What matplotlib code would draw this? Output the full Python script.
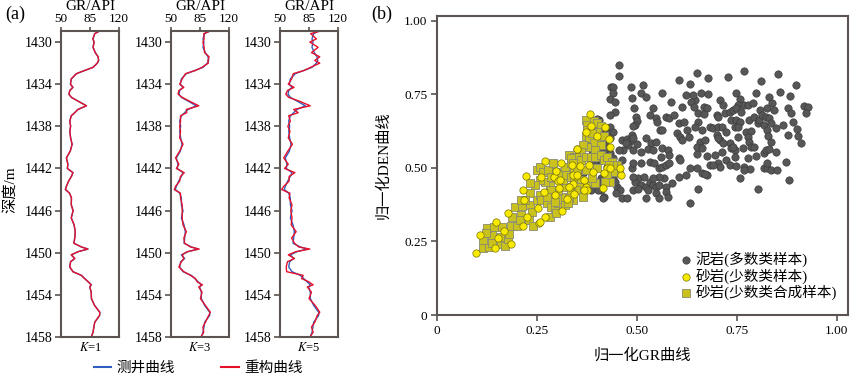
import numpy as np
import matplotlib
matplotlib.use("Agg")
import matplotlib.pyplot as plt
from matplotlib.lines import Line2D

plt.rcParams['font.family'] = ['Liberation Serif', 'Noto Sans CJK SC']
plt.rcParams['axes.unicode_minus'] = False

# ---- data: GR logs (depth in m, GR in API) ----
depth = [1428.9, 1429.2, 1429.7, 1430.0, 1430.5, 1431.0, 1431.4, 1431.75, 1432.0, 1432.4,
         1432.7, 1433.0, 1433.5, 1434.0, 1434.3, 1434.6, 1434.95, 1435.25, 1435.6, 1436.05,
         1436.4, 1436.7, 1437.0, 1437.5, 1438.0, 1438.45, 1439.1, 1439.7, 1440.35, 1441.0,
         1441.6, 1442.0, 1442.4, 1442.75, 1443.2, 1443.7, 1444.0, 1444.35, 1444.8, 1445.45,
         1446.0, 1446.7, 1447.35, 1448.0, 1448.6, 1449.1, 1449.45, 1449.65, 1449.9, 1450.2,
         1450.55, 1450.85, 1451.35, 1451.8, 1452.15, 1452.45, 1452.75, 1453.05, 1453.25, 1453.75,
         1454.35, 1455.0, 1455.65, 1455.95, 1456.6, 1457.05, 1457.55, 1458.0]

gr_log = [97.9, 90.6, 88.6, 89.8, 88.6, 91.4, 94.7, 95.5, 93.9, 88.6,
          78.6, 68.5, 62.5, 61.3, 64.5, 60.5, 59.7, 62.5, 70.5, 80.6,
          70.5, 66.5, 62.5, 60.5, 61.7, 60.5, 61.7, 63.3, 61.3, 56.4,
          58.4, 57.6, 64.5, 62.5, 59.3, 56.4, 55.2, 60.5, 62.5, 62.5,
          64.5, 62.5, 65.7, 67.3, 66.5, 65.7, 74.5, 82.6, 70.5, 62.5,
          66.5, 61.7, 60.5, 64.5, 74.5, 78.6, 82.6, 86.6, 84.6, 86.6,
          86.6, 90.6, 96.7, 96.7, 90.6, 89.8, 88.6, 86.6]

gr_k1 = [97.6, 90.8, 88.4, 90.0, 88.8, 91.2, 94.9, 95.3, 93.7, 88.8,
         78.4, 68.7, 62.3, 61.5, 64.3, 60.7, 59.5, 62.7, 70.3, 80.8,
         70.3, 66.7, 62.3, 60.7, 61.5, 60.7, 61.5, 63.5, 61.1, 56.6,
         58.2, 57.8, 64.3, 62.7, 59.1, 56.6, 55.4, 60.3, 62.7, 62.3,
         64.7, 62.3, 65.9, 67.1, 66.7, 65.5, 74.7, 82.4, 70.7, 62.3,
         66.7, 61.5, 60.7, 64.3, 74.7, 78.4, 82.8, 86.4, 84.8, 86.4,
         86.8, 90.4, 96.9, 96.5, 90.8, 89.6, 88.8, 86.4]

gr_k3 = [99.0, 89.5, 90.0, 88.5, 90.0, 90.5, 96.0, 94.5, 95.0, 87.5,
         79.5, 67.5, 63.5, 60.5, 65.5, 59.5, 58.5, 63.5, 72.0, 83.5,
         68.5, 69.0, 61.5, 61.5, 60.5, 61.5, 60.5, 64.5, 60.5, 55.5,
         59.5, 56.5, 66.0, 61.5, 60.5, 55.5, 54.0, 61.5, 61.5, 63.5,
         63.5, 63.5, 64.5, 68.5, 65.5, 66.5, 73.5, 84.0, 69.5, 63.5,
         65.5, 62.5, 59.5, 65.5, 73.5, 79.5, 81.5, 88.0, 83.5, 87.5,
         85.5, 91.5, 97.5, 95.5, 91.5, 88.5, 89.5, 86.0]

gr_k5 = [101.5, 87.0, 94.0, 86.0, 96.0, 88.0, 98.0, 92.0, 98.0, 87.0,
         79.0, 66.0, 64.0, 60.0, 67.0, 59.0, 57.0, 60.5, 73.0, 86.5,
         66.5, 72.0, 60.5, 62.5, 59.5, 62.0, 60.0, 65.0, 59.5, 54.5,
         60.0, 55.5, 68.0, 61.0, 61.0, 54.5, 52.0, 62.0, 61.0, 64.5,
         63.0, 64.5, 63.5, 69.5, 64.0, 67.5, 72.5, 86.0, 69.0, 60.0,
         67.5, 59.0, 57.5, 58.0, 78.0, 76.0, 84.5, 90.0, 83.0, 88.0,
         85.0, 92.5, 98.0, 95.0, 92.0, 88.0, 90.0, 86.0]

tracks = [("K=1", gr_k1), ("K=3", gr_k3), ("K=5", gr_k5)]

# ---- data: normalized GR vs DEN samples ----
mud_x = [0.650, 0.677, 0.728, 0.769, 0.853, 0.810, 0.898, 0.661, 0.677, 0.646, 0.708, 0.716,
         0.749, 0.757, 0.753, 0.769, 0.777, 0.790, 0.798, 0.857, 0.882, 0.831, 0.839, 0.826,
         0.808, 0.843, 0.878, 0.886, 0.918, 0.929, 0.923, 0.667, 0.675, 0.654, 0.667, 0.654,
         0.663, 0.683, 0.691, 0.704, 0.712, 0.724, 0.700, 0.704, 0.720, 0.732, 0.740, 0.749,
         0.761, 0.736, 0.749, 0.757, 0.745, 0.753, 0.781, 0.794, 0.802, 0.806, 0.814, 0.822,
         0.831, 0.818, 0.835, 0.847, 0.866, 0.890, 0.900, 0.877, 0.904, 0.910, 0.773, 0.786,
         0.777, 0.781, 0.786, 0.792, 0.826, 0.828, 0.835, 0.754, 0.765, 0.732, 0.736, 0.745,
         0.740, 0.708, 0.700, 0.704, 0.716, 0.712, 0.695, 0.675, 0.650, 0.659, 0.650, 0.663,
         0.671, 0.724, 0.746, 0.777, 0.798, 0.818, 0.822, 0.831, 0.847, 0.704, 0.708, 0.732,
         0.749, 0.769, 0.784, 0.769, 0.818, 0.826, 0.835, 0.851, 0.826, 0.874, 0.757, 0.675,
         0.663, 0.650, 0.880, 0.802, 0.654, 0.671, 0.683, 0.691,
         0.454, 0.456, 0.435, 0.440, 0.441, 0.433, 0.446, 0.484, 0.514, 0.487, 0.511, 0.522,
         0.564, 0.585, 0.605, 0.634, 0.622, 0.640, 0.636, 0.613, 0.642, 0.446, 0.432, 0.493,
         0.497, 0.500, 0.495, 0.489, 0.532, 0.541, 0.548, 0.550, 0.558, 0.563, 0.572, 0.581,
         0.593, 0.605, 0.618, 0.601, 0.609, 0.613, 0.630, 0.645, 0.626, 0.432, 0.441, 0.433,
         0.423, 0.462, 0.474, 0.482, 0.487, 0.491, 0.478, 0.466, 0.473, 0.489, 0.499, 0.511,
         0.523, 0.536, 0.548, 0.527, 0.541, 0.564, 0.577, 0.581, 0.560, 0.605, 0.609, 0.433,
         0.441, 0.446, 0.454, 0.462, 0.487, 0.491, 0.511, 0.532, 0.544, 0.556, 0.564, 0.572,
         0.581, 0.634, 0.605, 0.622, 0.503, 0.519, 0.495, 0.491, 0.511, 0.523, 0.532, 0.540,
         0.548, 0.556, 0.572, 0.589, 0.568, 0.556, 0.540, 0.450, 0.458, 0.448, 0.462, 0.474,
         0.491, 0.503, 0.527, 0.548, 0.572, 0.577, 0.556, 0.523, 0.417, 0.409, 0.634, 0.441,
         0.446, 0.409, 0.405, 0.433, 0.425, 0.405, 0.409, 0.413, 0.425, 0.396, 0.405, 0.392,
         0.384, 0.384, 0.417, 0.388, 0.364, 0.384, 0.376, 0.409, 0.421, 0.400, 0.405, 0.361,
         0.364, 0.403, 0.414, 0.410]
mud_y = [0.824, 0.807, 0.811, 0.831, 0.820, 0.796, 0.782, 0.756, 0.751, 0.731, 0.731, 0.714,
         0.756, 0.734, 0.714, 0.714, 0.714, 0.720, 0.756, 0.760, 0.745, 0.743, 0.722, 0.703,
         0.697, 0.697, 0.705, 0.686, 0.711, 0.706, 0.688, 0.709, 0.703, 0.686, 0.684, 0.658,
         0.629, 0.641, 0.637, 0.638, 0.638, 0.624, 0.680, 0.675, 0.686, 0.692, 0.697, 0.703,
         0.692, 0.663, 0.663, 0.658, 0.641, 0.638, 0.663, 0.675, 0.652, 0.663, 0.680, 0.675,
         0.669, 0.646, 0.652, 0.635, 0.646, 0.658, 0.632, 0.612, 0.609, 0.586, 0.624, 0.627,
         0.604, 0.590, 0.573, 0.573, 0.629, 0.609, 0.590, 0.604, 0.567, 0.584, 0.567, 0.561,
         0.573, 0.595, 0.612, 0.601, 0.584, 0.556, 0.544, 0.541, 0.548, 0.590, 0.573, 0.567,
         0.595, 0.527, 0.536, 0.533, 0.541, 0.550, 0.561, 0.564, 0.556, 0.516, 0.505, 0.510,
         0.507, 0.505, 0.495, 0.493, 0.499, 0.499, 0.493, 0.493, 0.516, 0.521, 0.465, 0.476,
         0.482, 0.499, 0.459, 0.427, 0.427, 0.480, 0.510, 0.510,
         0.850, 0.813, 0.774, 0.777, 0.754, 0.734, 0.726, 0.777, 0.782, 0.737, 0.754, 0.740,
         0.754, 0.726, 0.799, 0.785, 0.748, 0.748, 0.726, 0.706, 0.709, 0.692, 0.680, 0.703,
         0.675, 0.661, 0.646, 0.643, 0.680, 0.703, 0.669, 0.658, 0.629, 0.629, 0.675, 0.669,
         0.680, 0.652, 0.658, 0.618, 0.604, 0.595, 0.607, 0.641, 0.629, 0.641, 0.624, 0.601,
         0.618, 0.595, 0.598, 0.593, 0.612, 0.601, 0.578, 0.561, 0.584, 0.561, 0.582, 0.556,
         0.601, 0.584, 0.590, 0.564, 0.561, 0.567, 0.561, 0.544, 0.539, 0.533, 0.527, 0.550,
         0.533, 0.510, 0.561, 0.527, 0.499, 0.516, 0.516, 0.522, 0.516, 0.499, 0.505, 0.510,
         0.516, 0.499, 0.471, 0.476, 0.465, 0.471, 0.454, 0.471, 0.442, 0.437, 0.454, 0.442,
         0.437, 0.442, 0.437, 0.448, 0.465, 0.471, 0.465, 0.437, 0.425, 0.414, 0.397, 0.397,
         0.425, 0.427, 0.425, 0.414, 0.420, 0.402, 0.397, 0.397, 0.402, 0.425, 0.382, 0.465,
         0.454, 0.465, 0.448, 0.488, 0.505, 0.561, 0.595, 0.618, 0.573, 0.516, 0.663, 0.629,
         0.618, 0.590, 0.561, 0.561, 0.482, 0.425, 0.448, 0.527, 0.590, 0.667, 0.627, 0.546,
         0.484, 0.425, 0.399, 0.556]

sand_x = [0.097, 0.107, 0.147, 0.153, 0.144, 0.167, 0.186, 0.178, 0.218, 0.223, 0.215, 0.224,
          0.256, 0.253, 0.271, 0.261, 0.267, 0.271, 0.294, 0.292, 0.302, 0.310, 0.306, 0.312,
          0.324, 0.337, 0.347, 0.350, 0.382, 0.372, 0.386, 0.399, 0.421, 0.429, 0.433, 0.351,
          0.358, 0.380, 0.391, 0.337, 0.339, 0.351, 0.339, 0.372, 0.376, 0.343, 0.425, 0.433,
          0.417, 0.460, 0.458, 0.415, 0.368, 0.331, 0.216, 0.257, 0.308, 0.297, 0.368]
sand_y = [0.212, 0.272, 0.315, 0.261, 0.227, 0.287, 0.240, 0.346, 0.391, 0.473, 0.303, 0.334,
          0.314, 0.363, 0.524, 0.471, 0.420, 0.334, 0.408, 0.471, 0.457, 0.518, 0.431, 0.354,
          0.395, 0.442, 0.473, 0.564, 0.684, 0.624, 0.643, 0.609, 0.638, 0.598, 0.570, 0.564,
          0.507, 0.510, 0.488, 0.510, 0.476, 0.476, 0.444, 0.437, 0.425, 0.412, 0.499, 0.499,
          0.482, 0.476, 0.499, 0.431, 0.459, 0.437, 0.425, 0.317, 0.459, 0.489, 0.425]

syn_x = [0.114, 0.129, 0.138, 0.159, 0.171, 0.115, 0.138, 0.161, 0.178, 0.179, 0.126, 0.142,
         0.163, 0.122, 0.196, 0.188, 0.186, 0.200, 0.210, 0.212, 0.233, 0.237, 0.208, 0.229,
         0.241, 0.233, 0.249, 0.257, 0.261, 0.278, 0.276, 0.286, 0.294, 0.282, 0.298, 0.302,
         0.306, 0.294, 0.319, 0.319, 0.331, 0.335, 0.343, 0.341, 0.323, 0.315, 0.282, 0.270,
         0.257, 0.245, 0.233, 0.249, 0.257, 0.265, 0.278, 0.290, 0.298, 0.286, 0.310, 0.319,
         0.331, 0.335, 0.343, 0.323, 0.335, 0.343, 0.302, 0.286, 0.274, 0.220, 0.210,
         0.372, 0.376, 0.374, 0.372, 0.392, 0.399, 0.409, 0.400, 0.409, 0.380, 0.392, 0.409,
         0.396, 0.376, 0.364, 0.361, 0.347, 0.335, 0.339, 0.360, 0.372, 0.384, 0.396, 0.409,
         0.417, 0.425, 0.437, 0.450, 0.454, 0.441, 0.425, 0.400, 0.372, 0.351, 0.343, 0.360,
         0.380, 0.396, 0.356, 0.347, 0.335, 0.331, 0.327, 0.364, 0.388, 0.433, 0.421, 0.441,
         0.429, 0.388, 0.418]
syn_y = [0.227, 0.230, 0.246, 0.242, 0.233, 0.255, 0.272, 0.266, 0.257, 0.274, 0.295, 0.300,
         0.300, 0.278, 0.368, 0.334, 0.303, 0.303, 0.340, 0.371, 0.374, 0.351, 0.323, 0.323,
         0.303, 0.416, 0.391, 0.408, 0.391, 0.403, 0.380, 0.366, 0.363, 0.334, 0.346, 0.380,
         0.393, 0.386, 0.374, 0.403, 0.393, 0.414, 0.431, 0.391, 0.437, 0.459, 0.439, 0.454,
         0.459, 0.442, 0.448, 0.493, 0.505, 0.488, 0.493, 0.516, 0.488, 0.471, 0.480, 0.505,
         0.544, 0.516, 0.539, 0.476, 0.471, 0.499, 0.425, 0.425, 0.403, 0.391, 0.391,
         0.663, 0.646, 0.629, 0.609, 0.661, 0.652, 0.643, 0.624, 0.607, 0.601, 0.584, 0.578,
         0.561, 0.570, 0.578, 0.556, 0.539, 0.533, 0.516, 0.527, 0.539, 0.539, 0.539, 0.544,
         0.527, 0.539, 0.522, 0.510, 0.488, 0.488, 0.476, 0.499, 0.493, 0.493, 0.465, 0.459,
         0.454, 0.448, 0.437, 0.425, 0.414, 0.397, 0.380, 0.403, 0.465, 0.454, 0.454, 0.510,
         0.510, 0.618, 0.609]

depth_ticks = [1430, 1434, 1438, 1442, 1446, 1450, 1454, 1458]
gr_ticks = [50, 85, 120]
norm_ticks = [0, 0.25, 0.5, 0.75, 1.0]
norm_labels = ["0", "0.25", "0.50", "0.75", "1.00"]

spine_c = "#5b5450"
blue = "#2f5fbf"
red = "#e5102a"

fig = plt.figure(figsize=(8.5, 3.76), dpi=100)

lefts = [61, 171, 280]
for (klabel, gr_rec), lx in zip(tracks, lefts):
    ax = fig.add_axes([lx / 850, 1 - 337 / 376, 58 / 850, 306 / 376])
    ax.plot(gr_log, depth, color=blue, lw=1.0)
    ax.plot(gr_rec, depth, color=red, lw=1.0)
    ax.set_xlim(50, 120)
    ax.set_ylim(1458, 1428.95)
    ax.set_yticks(depth_ticks)
    ax.set_xticks(gr_ticks)
    ax.xaxis.tick_top()
    ax.tick_params(axis='y', direction='out', length=4, width=1.2, color=spine_c,
                   labelsize=10, pad=2)
    ax.tick_params(axis='x', direction='out', length=3, width=1.2, color=spine_c,
                   labelsize=9.5, pad=1)
    for s in ax.spines.values():
        s.set_color(spine_c)
        s.set_linewidth(1.5)
    fig.text((lx + 29) / 850, 1 - 0.5 / 376, "GR/API", ha='center', va='top', fontsize=11)
    k, v = klabel.split("=")
    ax.text(0.5, -0.012, "$\\it{K}$=" + v, transform=ax.transAxes, ha='center', va='top',
            fontsize=9, math_fontfamily='stix')

fig.text(10 / 850, 1 - 190 / 376, "深度/m", rotation=90, ha='center', va='center', fontsize=11)
fig.text(5 / 850, 1 - 14 / 376, "(a)", ha='left', va='center', fontsize=13)
fig.text(371 / 850, 1 - 14 / 376, "(b)", ha='left', va='center', fontsize=13)

handles = [Line2D([], [], color=blue, lw=1.5), Line2D([], [], color=red, lw=1.5)]
fig.legend(handles, ["测井曲线", "重构曲线"], loc='center', bbox_to_anchor=(198 / 850, 8 / 376),
           ncol=2, frameon=False, fontsize=10.5, handlelength=1.2, handletextpad=0.35,
           columnspacing=3.2)

# scatter panel
ax2 = fig.add_axes([437 / 850, 1 - 315 / 376, 411 / 850, 299 / 376])
h1 = ax2.scatter(mud_x, mud_y, marker='o', s=28, facecolor="#575757", edgecolor="#3c3c3c",
                 linewidth=0.5, zorder=2)
h3 = ax2.scatter(syn_x, syn_y, marker='s', s=30, facecolor="#c9c21e", edgecolor="#8a8a70",
                 linewidth=0.6, zorder=3)
h2 = ax2.scatter(sand_x, sand_y, marker='o', s=28, facecolor="#f7ea00", edgecolor="#7a7200",
                 linewidth=0.5, zorder=4)
ax2.set_xlim(0, 1.028)
ax2.set_ylim(0, 1.017)
ax2.set_xticks(norm_ticks)
ax2.set_xticklabels(norm_labels)
ax2.set_yticks(norm_ticks)
ax2.set_yticklabels(norm_labels)
ax2.tick_params(direction='out', length=4, width=1.2, color=spine_c, labelsize=9.5, pad=3)
for s in ax2.spines.values():
    s.set_color(spine_c)
    s.set_linewidth(1.5)
ax2.set_xlabel("归一化GR曲线", fontsize=11, labelpad=8)
ax2.set_ylabel("归一化DEN曲线", fontsize=11, labelpad=10)
ax2.legend([h1, h2, h3], ["泥岩(多数类样本)", "砂岩(少数类样本)", "砂岩(少数类合成样本)"],
           loc='lower right', bbox_to_anchor=(0.995, 0.02), frameon=False, fontsize=10.5,
           labelspacing=0.1, handletextpad=0.2, handlelength=1.0, borderaxespad=0.2)

fig.savefig("out.png", dpi=100)
